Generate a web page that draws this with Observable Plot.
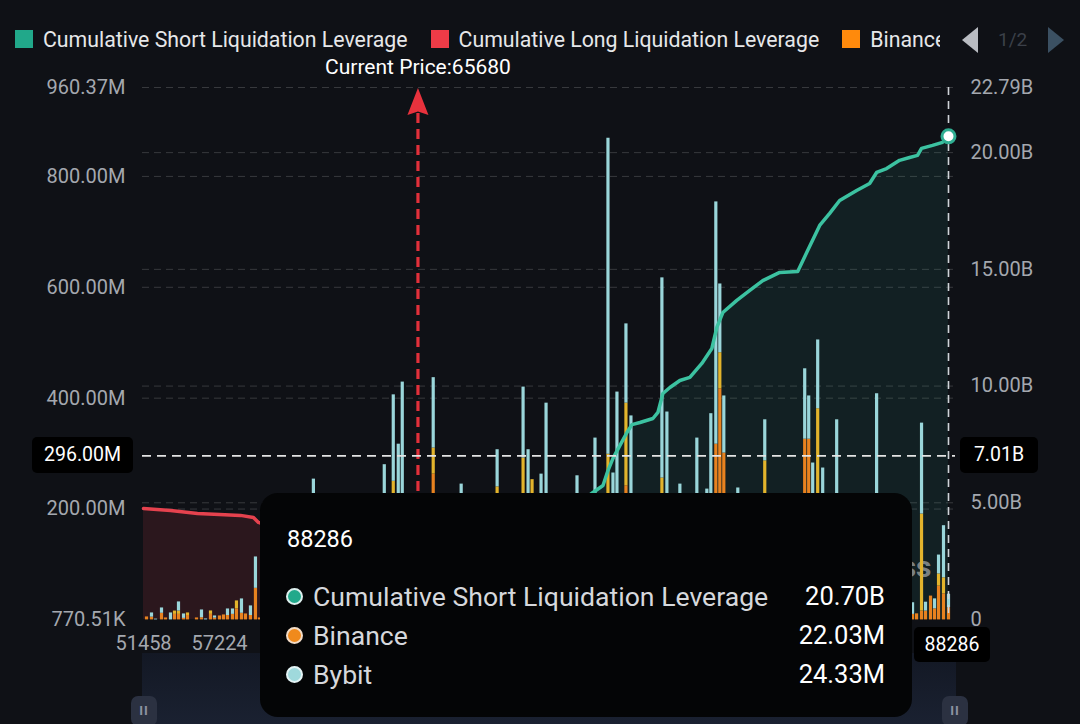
<!DOCTYPE html>
<html><head><meta charset="utf-8">
<script src="https://cdn.jsdelivr.net/npm/d3@7"></script>
<script src="https://cdn.jsdelivr.net/npm/@observablehq/plot@0.6"></script>
<style>
html,body{margin:0;padding:0;}
body{background:#0f1116;width:1080px;height:724px;overflow:hidden;position:relative;font-family:Roboto,"Noto Sans",sans-serif;}
#legend{position:absolute;left:0;top:0;width:1080px;height:56px;}
#legend .items{position:absolute;left:15px;top:26px;width:925px;overflow:hidden;white-space:nowrap;display:flex;align-items:center;height:26px;}
#legend .sw{display:inline-block;width:18px;height:18px;flex:none;margin-right:10px;}
#legend .lt{color:#e6e7e9;font-size:21.3px;margin-right:23px;flex:none;}
#legend .pg{position:absolute;top:27px;height:26px;}
#chart{position:absolute;left:0;top:56px;}
#slider{position:absolute;left:142px;top:653px;width:814px;height:71px;background:linear-gradient(to bottom,#131824,#1a2131);}
.handle{position:absolute;top:696px;width:26px;height:30px;border-radius:7px;background:#2b3141;color:#8d93a1;font-size:13px;text-align:center;line-height:30px;font-weight:bold;letter-spacing:1px;}
.box{position:absolute;background:#000;color:#fff;font-size:19.5px;border-radius:5px;text-align:center;}
#tip{position:absolute;left:260px;top:493px;width:652px;height:224px;background:#040506;border-radius:18px;color:#fff;}
#tip .title{position:absolute;left:27px;top:32px;font-size:23.5px;}
#tip .row{position:absolute;left:26px;right:27px;height:32px;display:flex;align-items:center;}
#tip .dot{width:13px;height:13px;border-radius:50%;border:2.5px solid #dcefed;margin-right:10px;flex:none;}
#tip .name{color:#d6d8dc;flex:1;font-size:26.6px;}
#tip .val{color:#fff;font-size:25.5px;}
</style></head><body>
<div id="legend">
  <div class="items">
    <span class="sw" style="background:#21a88a"></span><span class="lt">Cumulative Short Liquidation Leverage</span>
    <span class="sw" style="background:#ee3b47"></span><span class="lt">Cumulative Long Liquidation Leverage</span>
    <span class="sw" style="background:#ff8a0c"></span><span class="lt">Binance</span>
  </div>
  <svg class="pg" style="left:960px" width="20" height="26"><path d="M18,0 L2,13 L18,26 Z" fill="#b9bcc2"/></svg>
  <span class="pg" style="left:998px;top:28px;color:#3b4049;font-size:19px;">1/2</span>
  <svg class="pg" style="left:1046px" width="20" height="26"><path d="M2,0 L18,13 L2,26 Z" fill="#3b5062"/></svg>
</div>
<div id="slider"></div>
<div class="handle" style="left:131px">II</div>
<div class="handle" style="left:942px">II</div>
<div id="chart"></div>
<div id="tip">
  <div class="title" id="tipTitle"></div>
  <div class="row" style="top:87px"><span class="dot" style="background:#22a98b"></span><span class="name">Cumulative Short Liquidation Leverage</span><span class="val" id="tv0"></span></div>
  <div class="row" style="top:126px"><span class="dot" style="background:#f08a1c;border-color:#f3dcc6"></span><span class="name">Binance</span><span class="val" id="tv1"></span></div>
  <div class="row" style="top:165px"><span class="dot" style="background:#9fd9dc;border-color:#e4f4f5"></span><span class="name">Bybit</span><span class="val" id="tv2"></span></div>
</div>
<script>
// ---------- data ----------
const exchanges = ["Binance", "OKX", "Bybit"];
const exchangeColors = ["#e8821f", "#e3b42c", "#9ad6da"];

const barPrice = [51686, 52065, 52368, 52824, 53127, 53506, 53810, 54113, 54493, 54796, 55479, 55858, 56162, 56541, 56845,
  57224, 57394, 57564, 57777, 57947, 58160, 58330, 58543, 58756, 58926,
  61224, 64245, 64628, 64841, 65011, 66330, 67521, 69053, 70159, 70372, 70542, 70925, 71138, 72457,
  73223, 73776, 73989, 74159, 74542, 74755, 76074, 76287, 76840, 77563, 77989, 78159, 78372, 78542, 78712,
  79308, 80457, 82159, 82329, 82499, 82712, 82925, 83521, 85223,
  86754, 86925, 87137, 87307, 87520, 87691, 87861, 88073, 88286];
const binance = [5.4, 5, 0, 12, 3.6, 0, 10, 10, 2.8, 8, 3.6, 4, 0, 10, 3.2,
  7.2, 9, 8, 10, 20, 12, 10.8, 8, 57, 3.6,
  15, 20, 120, 20, 20, 263, 15, 120, 150, 20, 120, 15, 20, 15,
  20, 150, 15, 20, 242, 20, 130, 20, 15, 20, 16, 22, 317, 417, 301,
  15, 140, 326, 326, 15, 200, 14, 20, 20,
  10, 11, 16, 16, 43, 20, 61, 47, 22.03];
const okx = [0, 0, 0, 0, 0, 0, 6, 6, 0, 4.6, 0, 0, 0, 6.2, 0,
  0, 0, 0, 0, 14.3, 0, 0, 0, 0, 0,
  0, 0, 130, 0, 0, 47, 0, 120, 142, 0, 133, 0, 0, 0,
  0, 149, 0, 0, 149, 0, 126, 0, 0, 0, 0, 0, 0, 65, 0,
  0, 147, 0, 0, 0, 181, 0, 0, 0,
  0, 0, 175, 0, 0, 0, 22, 29, 0];
const bybit = [0, 7.6, 1.5, 9.6, 0, 12.6, 0, 16.5, 8, 0, 0, 14, 1.8, 0, 4,
  0, 0, 11.8, 9.8, 0, 25.9, 0, 17.3, 56.6, 0,
  239, 260, 156, 297, 409, 127, 230, 67, 128, 287, 0, 248, 371, 245,
  308, 570, 250, 391, 143, 348, 361, 355, 230, 308, 220, 350, 437, 124, 103,
  223, 74, 127, 78, 268, 124, 260, 341, 388,
  21, 0, 164, 16, 0, 18, 34, 94, 24.33];

const longPrice = [51458, 53506, 55555, 57224, 58118, 58671, 58884, 61000, 63000, 64500, 65680];
const longLev   = [4.76, 4.67, 4.54, 4.50, 4.46, 4.37, 4.16, 3.4, 2.3, 1.2, 0];

const shortPrice = [65680, 67000, 69000, 71000, 73138, 73564, 73776, 73989, 74287, 74585, 74797, 75138, 75691, 75904,
  76117, 76415, 76840, 77265, 77776, 78202, 78415, 78670, 79265, 79819, 80372, 81095, 81861, 82244, 82797,
  83223, 83648, 84372, 84925, 85223, 85648, 86201, 86627, 86967, 87137, 87605, 88031, 88286];
const shortLev = [0, 0.8, 2.2, 3.8, 5.44, 5.74, 6.38, 6.90, 7.46, 8.01, 8.35, 8.44, 8.61, 8.87,
  9.68, 9.94, 10.24, 10.37, 10.97, 11.61, 12.51, 13.15, 13.67, 14.10, 14.52, 14.87, 14.91, 15.72, 16.88,
  17.40, 17.95, 18.38, 18.68, 19.15, 19.32, 19.67, 19.79, 19.88, 20.18, 20.31, 20.44, 20.70];

const xTicks = [51458, 57224];
const leftTicks = [0.77051, 200, 400, 600, 800, 960.37];
const leftLabels = ["770.51K", "200.00M", "400.00M", "600.00M", "800.00M", "960.37M"];
const rightTicks = [0, 5, 10, 15, 20, 22.79];
const rightLabels = ["0", "5.00B", "10.00B", "15.00B", "20.00B", "22.79B"];

const currentPrice = 65680;
const hoverPrice = 88286;
const hoverLeft = 296.00, hoverLeftLabel = "296.00M", hoverRightLabel = "7.01B";
const tipValues = ["20.70B", "22.03M", "24.33M"];
const tipLev = 20.70;

// ---------- build ----------
const yMin = 0.77051, yMax = 960.37, rMax = 22.79;
const toLeft = b => yMin + b / rMax * (yMax - yMin);
const rightTicksL = rightTicks.map(toLeft);
const lMap = new Map(leftTicks.map((d, i) => [d, leftLabels[i]]));
const rMap = new Map(rightTicksL.map((d, i) => [d, rightLabels[i]]));

const barRows = [];
[binance, okx, bybit].forEach((arr, j) => arr.forEach((v, i) => barRows.push({price: barPrice[i], exchange: exchanges[j], value: v})));
const longRows = longPrice.map((p, i) => ({price: p, v: toLeft(longLev[i])}));
const shortRows = shortPrice.map((p, i) => ({price: p, v: toLeft(shortLev[i])}));

const teal = "#3cc2a1", red = "#e5424e";
const axisColor = "#a4a8af";

// notched arrow head symbol
const arrowHead = {draw(ctx) { ctx.moveTo(0, -14); ctx.lineTo(10.5, 13); ctx.lineTo(0, 9.5); ctx.lineTo(-10.5, 13); ctx.closePath(); }};

const chart = Plot.plot({
  width: 1080, height: 668,
  marginLeft: 142, marginRight: 125, marginTop: 31, marginBottom: 105,
  style: {background: "transparent", fontFamily: "Roboto, 'Noto Sans', sans-serif", fontSize: "20px", color: axisColor},
  x: {type: "linear", domain: [51458, 57224, 88286], range: [143, 219, 948], label: null},
  y: {domain: [yMin, yMax], label: null},
  color: {domain: exchanges, range: exchangeColors},
  marks: [
    Plot.gridY(leftTicks.filter(d => d > 1), {stroke: "#ffffff", strokeOpacity: 0.17, strokeDasharray: "7,5"}),
    Plot.gridY(rightTicksL.filter((d, i) => i > 0 && i < rightTicks.length - 1), {stroke: "#ffffff", strokeOpacity: 0.17, strokeDasharray: "7,5"}),
    Plot.areaY(longRows, {x: "price", y1: yMin, y2: "v", fill: red, fillOpacity: 0.13}),
    Plot.areaY(shortRows, {x: "price", y1: yMin, y2: "v", fill: teal, fillOpacity: 0.09}),
    Plot.text(["coinglass"], {frameAnchor: "bottom-right", dx: -24, dy: -43, text: d => d, fontSize: 30, fontWeight: "bold", fill: "#ffffff", fillOpacity: 0.45, textAnchor: "end"}),
    Plot.ruleX(barRows, Plot.stackY({x: "price", y: "value", z: "exchange", stroke: "exchange", strokeWidth: 3.2})),
    Plot.lineY(longRows, {x: "price", y: "v", stroke: red, strokeWidth: 3.5}),
    Plot.lineY(shortRows, {x: "price", y: "v", stroke: teal, strokeWidth: 3.5}),
    Plot.ruleX([currentPrice], {y1: yMin, y2: yMax - 44, stroke: "#e2303b", strokeWidth: 3.2, strokeDasharray: "10,6"}),
    Plot.dot([currentPrice], {x: d => d, y: yMax - 26, symbol: arrowHead, r: 9, fill: "#e8323d", stroke: "none"}),
    Plot.text([currentPrice], {x: d => d, y: yMax, dy: -20, text: d => "Current Price:" + d, fill: "#ffffff", fontSize: 21}),
    Plot.ruleY([hoverLeft], {stroke: "#e4e4e4", strokeWidth: 1.6, strokeDasharray: "9,6"}),
    Plot.ruleX([hoverPrice], {stroke: "#cfd3d8", strokeWidth: 1.6, strokeDasharray: "8,6"}),
    Plot.dot([hoverPrice], {x: d => d, y: toLeft(tipLev), r: 6.5, fill: "#ffffff", stroke: "#2fae92", strokeWidth: 3}),
    Plot.axisY(leftTicks, {anchor: "left", tickSize: 0, tickPadding: 17, tickFormat: d => lMap.get(d), fill: axisColor}),
    Plot.axisY(rightTicksL, {anchor: "right", tickSize: 0, tickPadding: 15, tickFormat: d => rMap.get(d), fill: axisColor}),
    Plot.axisX(xTicks, {tickSize: 0, tickPadding: 16, tickFormat: d => String(d), fill: axisColor})
  ]
});
document.getElementById("chart").appendChild(chart);

// ---------- overlays tied to scales ----------
const sx = chart.scale("x"), sy = chart.scale("y");
const top0 = 56;
const yh = sy.apply(hoverLeft) + top0;
function box(text, left, top, w, h) {
  const d = document.createElement("div");
  d.className = "box";
  d.textContent = text;
  Object.assign(d.style, {left: left + "px", top: top + "px", width: w + "px", height: h + "px", lineHeight: h + "px"});
  document.body.appendChild(d);
}
box(hoverLeftLabel, 142 - 110, yh - 18, 101, 36);
box(hoverRightLabel, 1080 - 125 + 5, yh - 18, 78, 36);
const xh = sx.apply(hoverPrice);
box(String(hoverPrice), xh + 4 - 38, sy.apply(yMin) + top0 + 8, 76, 35);

document.getElementById("tipTitle").textContent = String(hoverPrice);
tipValues.forEach((v, i) => document.getElementById("tv" + i).textContent = v);
</script>
</body></html>
